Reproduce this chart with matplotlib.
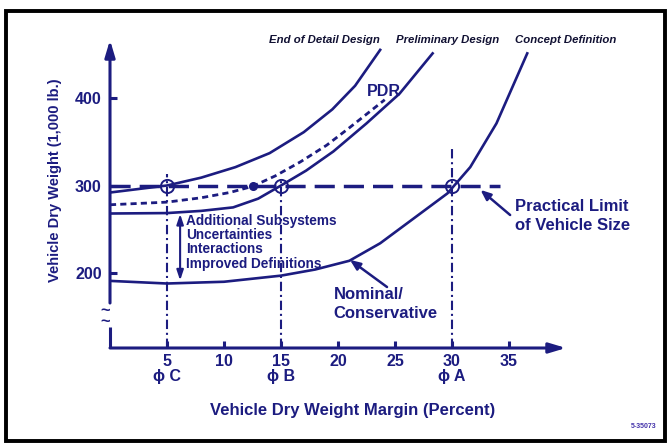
import matplotlib
matplotlib.use("Agg")
import matplotlib.pyplot as plt
from matplotlib.patches import Rectangle

plt.rcParams['font.family'] = ['Liberation Sans', 'DejaVu Sans']
plt.rcParams['font.weight'] = 'bold'

NAVY = '#1c1c80'

# Dry weight (1,000 lb) against weight margin (%) for each design phase
end_detail_x = [0, 5, 8, 11, 14, 17, 19.5, 21.5, 23.7]
end_detail_y = [292, 300, 309, 321, 337, 361, 387, 414, 455]

pdr_x = [0, 5, 8, 10.5, 12.5, 14.5, 16.7, 19, 21, 24.1]
pdr_y = [278, 281, 286, 292, 299, 311, 327, 346, 366, 398]

prelim_x = [0, 5, 8, 10.8, 13, 15, 17.2, 19.6, 22.5, 25.4, 28.3]
prelim_y = [268, 268.5, 271, 275, 285, 300, 317, 339, 371, 405, 451]

concept_x = [0, 5, 10, 15, 18, 21, 23.7, 26.6, 29.6, 31.6, 33.9, 36.6]
concept_y = [191, 188, 190, 197, 204, 214, 234, 262, 291, 321, 371, 451]

limit_y = 300
limit_x_end = 34.2

# phase points where each curve meets the practical limit
phase_x = [5, 15, 30]
phase_top = [313, 307, 344]
phase_labels = ['\u03d5 C', '\u03d5 B', '\u03d5 A']
pdr_cross = (12.5, 299.5)

growth_items = ['Additional Subsystems', 'Uncertainties', 'Interactions',
                'Improved Definitions']

x_ticks = [5, 10, 15, 20, 25, 30, 35]
y_ticks = [200, 300, 400]
y_min, y_max = 114.3, 466.3

fig = plt.figure(figsize=(6.69, 4.45), dpi=100)
ax = fig.add_axes([110 / 669, 1 - 348 / 445, 456 / 669, 308 / 445])
ax.set_xlim(0, 40)
ax.set_ylim(y_min, y_max)
for s in ax.spines.values():
    s.set_visible(False)

# curves
ax.plot(end_detail_x, end_detail_y, color=NAVY, lw=1.9)
ax.plot(pdr_x, pdr_y, color=NAVY, lw=2.0, linestyle=(0, (2.2, 1.5)))
ax.plot(prelim_x, prelim_y, color=NAVY, lw=1.9)
ax.plot(concept_x, concept_y, color=NAVY, lw=1.9)

# practical limit line
ax.plot([0, limit_x_end], [limit_y, limit_y], color=NAVY, lw=2.5,
        linestyle=(0, (5.8, 2.6)))

# phase verticals and circles
for px, top in zip(phase_x, phase_top):
    ax.plot([px, px], [y_min, top], color=NAVY, lw=1.5,
            linestyle=(0, (4.5, 1.8, 1, 1.8)))
ax.plot(phase_x, [limit_y] * 3, 'o', ms=9.5, mfc='none', mec=NAVY, mew=1.4)
ax.plot(*pdr_cross, 'o', ms=5.5, color=NAVY)

# axes with arrow heads and a break in the weight axis
arrow = dict(arrowstyle='-|>,head_length=1.0,head_width=0.3', color=NAVY,
             lw=2.2, shrinkA=0, shrinkB=0)
ax.annotate('', xy=(0, y_max), xytext=(0, 165.7), arrowprops=arrow,
            annotation_clip=False)
ax.plot([0, 0], [y_min, 138.3], color=NAVY, lw=2.2, clip_on=False,
        solid_capstyle='butt')
ax.annotate('', xy=(40, y_min), xytext=(0, y_min), arrowprops=arrow,
            annotation_clip=False)
ax.text(-0.4, 151, '~\n~', color=NAVY, fontsize=12, ha='center',
        va='center', fontweight='bold', linespacing=0.7)

# ticks
ax.set_xticks(x_ticks)
ax.set_xticklabels([str(t) for t in x_ticks])
ax.set_yticks(y_ticks)
ax.set_yticklabels([str(t) for t in y_ticks])
ax.tick_params(axis='both', direction='in', length=5, width=2.2, color=NAVY,
               labelcolor=NAVY, labelsize=11.5)
ax.tick_params(axis='x', pad=4)
ax.tick_params(axis='y', pad=6)
ax.tick_params(top=False, right=False)
for t in ax.get_xticklabels() + ax.get_yticklabels():
    t.set_fontweight('bold')

for px, lab in zip(phase_x, phase_labels):
    ax.text(px, y_min - 33, lab, color=NAVY, fontsize=11.5, ha='center',
            va='center', fontweight='bold', clip_on=False)

ax.set_xlabel('Vehicle Dry Weight Margin (Percent)', color=NAVY,
              fontsize=12, fontweight='bold')
ax.set_ylabel('Vehicle Dry Weight (1,000 lb.)', color=NAVY, fontsize=10.5,
              fontweight='bold')
ax.xaxis.set_label_coords(0.531, -0.18)
ax.yaxis.set_label_coords(-0.105, 0.545)

# growth between nominal and preliminary design estimates
ax.annotate('', xy=(6.15, 267.5), xytext=(6.15, 191.5),
            arrowprops=dict(arrowstyle='<|-|>,head_length=0.6,head_width=0.2',
                            color=NAVY, lw=1.5, shrinkA=0, shrinkB=0))
ax.text(6.65, 235, '\n'.join(growth_items), color=NAVY, fontsize=9.8,
        ha='left', va='center', fontweight='bold', linespacing=1.02)

ax.text(24.0, 407, 'PDR', color=NAVY, fontsize=11.5, ha='center',
        va='center', fontweight='bold')

ax.annotate('', xy=(32.5, 295), xytext=(35.1, 266.3),
            arrowprops=dict(arrowstyle='-|>,head_length=0.6,head_width=0.25',
                            color=NAVY, lw=1.8, shrinkA=0, shrinkB=0))
ax.text(35.5, 265, 'Practical Limit\nof Vehicle Size', color=NAVY,
        fontsize=12, ha='left', va='center', fontweight='bold',
        linespacing=1.3, clip_on=False)

ax.annotate('', xy=(21.05, 215), xytext=(24.3, 184),
            arrowprops=dict(arrowstyle='-|>,head_length=0.6,head_width=0.25',
                            color=NAVY, lw=1.8, shrinkA=0, shrinkB=0))
ax.text(19.6, 164.6, 'Nominal/\nConservative', color=NAVY, fontsize=12,
        ha='left', va='center', fontweight='bold', linespacing=1.3)

# phase names over the curves
for cx, name in [(324, 'End of Detail Design'), (448, 'Preliminary Design'),
                 (566, 'Concept Definition')]:
    fig.text(cx / 669, 1 - 40 / 445, name, color='#111133', fontsize=8.2,
             ha='center', va='center', fontweight='bold', style='italic')

fig.text(644 / 669, 1 - 426 / 445, '5-35073', color='#4433aa', fontsize=5,
         ha='center', va='center', fontweight='bold')

# frame
fig.patches.append(Rectangle((6 / 669, 1 - 441 / 445), 659 / 669, 430 / 445,
                             transform=fig.transFigure, fill=False,
                             edgecolor='black', lw=2.8))

fig.savefig('out.png', dpi=100)
